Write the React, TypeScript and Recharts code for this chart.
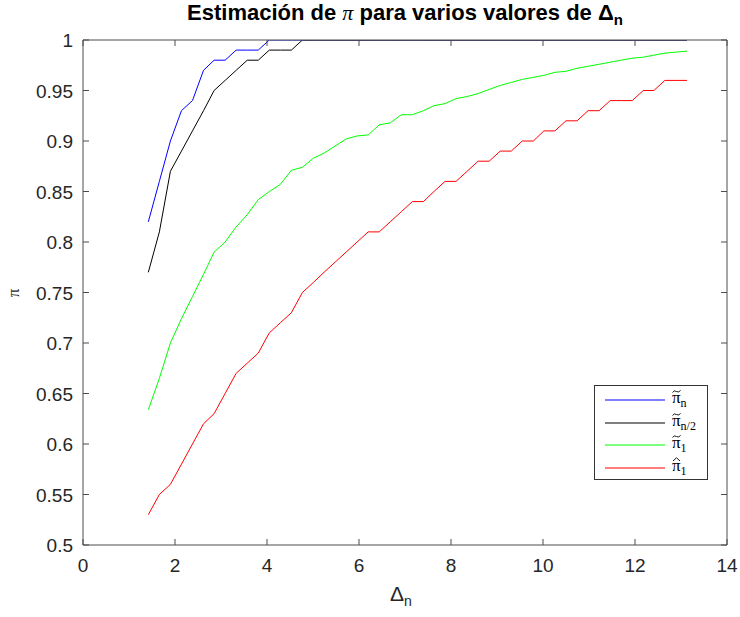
import { LineChart, Line, XAxis, YAxis, Legend } from 'recharts'

// x = Δn sample positions
const xValues = [
  1.42, 1.66, 1.9, 2.14, 2.38, 2.62, 2.85, 3.09, 3.33, 3.57,
  3.81, 4.05, 4.29, 4.53, 4.77, 5.01, 5.24, 5.48, 5.72, 5.96,
  6.2, 6.44, 6.68, 6.92, 7.16, 7.4, 7.63, 7.87, 8.11, 8.35,
  8.59, 8.83, 9.07, 9.31, 9.55, 9.79, 10.02, 10.26, 10.5, 10.74,
  10.98, 11.22, 11.46, 11.7, 11.94, 12.18, 12.41, 12.65, 12.89, 13.13,
]

const piTildeN = [
  0.82, 0.86, 0.9, 0.93, 0.94, 0.97, 0.98, 0.98, 0.99, 0.99,
  0.99, 1, 1, 1, 1, 1, 1, 1, 1, 1,
  1, 1, 1, 1, 1, 1, 1, 1, 1, 1,
  1, 1, 1, 1, 1, 1, 1, 1, 1, 1,
  1, 1, 1, 1, 1, 1, 1, 1, 1, 1,
]

const piTildeHalf = [
  0.77, 0.81, 0.87, 0.89, 0.91, 0.93, 0.95, 0.96, 0.97, 0.98,
  0.98, 0.99, 0.99, 0.99, 1, 1, 1, 1, 1, 1,
  1, 1, 1, 1, 1, 1, 1, 1, 1, 1,
  1, 1, 1, 1, 1, 1, 1, 1, 1, 1,
  1, 1, 1, 1, 1, 1, 1, 1, 1, 1,
]

const piTilde1 = [
  0.634, 0.665, 0.7, 0.724, 0.746, 0.768, 0.79, 0.8, 0.815, 0.827,
  0.842, 0.85, 0.857, 0.871, 0.874, 0.883, 0.888, 0.895, 0.902, 0.905,
  0.906, 0.916, 0.918, 0.926, 0.926, 0.93, 0.935, 0.937, 0.942, 0.944,
  0.947, 0.951, 0.955, 0.958, 0.961, 0.963, 0.965, 0.968, 0.969, 0.972,
  0.974, 0.976, 0.978, 0.98, 0.982, 0.983, 0.985, 0.987, 0.988, 0.989,
]

const piHat1 = [
  0.53, 0.55, 0.56, 0.58, 0.6, 0.62, 0.63, 0.65, 0.67, 0.68,
  0.69, 0.71, 0.72, 0.73, 0.75, 0.76, 0.77, 0.78, 0.79, 0.8,
  0.81, 0.81, 0.82, 0.83, 0.84, 0.84, 0.85, 0.86, 0.86, 0.87,
  0.88, 0.88, 0.89, 0.89, 0.9, 0.9, 0.91, 0.91, 0.92, 0.92,
  0.93, 0.93, 0.94, 0.94, 0.94, 0.95, 0.95, 0.96, 0.96, 0.96,
]

const xTicks = [0, 2, 4, 6, 8, 10, 12, 14]
const yTicks = [0.5, 0.55, 0.6, 0.65, 0.7, 0.75, 0.8, 0.85, 0.9, 0.95, 1]

const data = xValues.map((x, i) => ({
  x,
  piN: piTildeN[i],
  piHalf: piTildeHalf[i],
  pi1: piTilde1[i],
  piHat: piHat1[i],
}))

const series = [
  { key: 'piN', color: '#0000ff', accent: 'tilde', sub: 'n' },
  { key: 'piHalf', color: '#000000', accent: 'tilde', sub: 'n/2' },
  { key: 'pi1', color: '#00ff00', accent: 'tilde', sub: '1' },
  { key: 'piHat', color: '#ff0000', accent: 'hat', sub: '1' },
]

const AXIS = '#262626'
const BOX = '#4d4d4d'
const FONT = 'Arial, "Liberation Sans", Helvetica, sans-serif'
const SERIF = '"Liberation Serif", "DejaVu Serif", serif'
const TICK_SIZE = 19

const fmt = (v: number) => String(Number(v.toFixed(2)))

function BottomTick({ x, y, payload }: any) {
  return (
    <g>
      <line x1={x} x2={x} y1={y} y2={y - 6} stroke={BOX} />
      <text x={x} y={y + 27} textAnchor="middle" fill={AXIS} fontSize={TICK_SIZE} fontFamily={FONT}>
        {payload.value}
      </text>
    </g>
  )
}

function TopTick({ x, y }: any) {
  return <line x1={x} x2={x} y1={y} y2={y + 6} stroke={BOX} />
}

function LeftTick({ x, y, payload }: any) {
  return (
    <g>
      <line x1={x} x2={x + 6} y1={y} y2={y} stroke={BOX} />
      <text x={x - 10} y={y + 7} textAnchor="end" fill={AXIS} fontSize={TICK_SIZE} fontFamily={FONT}>
        {fmt(payload.value)}
      </text>
    </g>
  )
}

function RightTick({ x, y }: any) {
  return <line x1={x} x2={x - 6} y1={y} y2={y} stroke={BOX} />
}

// accent drawn as a tiny path so it sits right over the π
function Accent({ kind }: { kind: string }) {
  return (
    <svg
      width={9}
      height={5}
      style={{ position: 'absolute', left: 0, top: 0 }}
    >
      {kind === 'tilde' ? (
        <path d="M0.5 3.5 Q2 0.8 4.5 2.5 T8.5 1.2" fill="none" stroke="#000" strokeWidth={0.9} />
      ) : (
        <path d="M1 4 L4.5 0.8 L8 4" fill="none" stroke="#000" strokeWidth={0.9} />
      )}
    </svg>
  )
}

function LegendBox() {
  return (
    <div
      style={{
        position: 'relative',
        width: 112,
        height: 93,
        border: '1px solid #333',
        background: '#fff',
      }}
    >
      <svg width={112} height={93} style={{ position: 'absolute', left: 0, top: 0 }}>
        {series.map((s, i) => {
          const ly = Math.round(14 + i * 22.5)
          return (
            <line key={s.key} x1={10} x2={70} y1={ly} y2={ly} stroke={s.color} strokeWidth={1.2} />
          )
        })}
      </svg>
      {series.map((s, i) => (
        <div
          key={s.key}
          style={{
            position: 'absolute',
            left: 77,
            top: 3 + i * 22.5,
            fontFamily: SERIF,
            fontSize: 17,
            lineHeight: '18px',
            color: '#000',
            whiteSpace: 'nowrap',
          }}
        >
          <span style={{ position: 'relative', display: 'inline-block' }}>
            π
            <Accent kind={s.accent} />
          </span>
          <sub style={{ fontSize: 12 }}>{s.sub}</sub>
        </div>
      ))}
    </div>
  )
}

export default function App() {
  return (
    <div style={{ position: 'absolute', left: 0, top: 0, width: 740, height: 617, background: '#fff' }}>
      <LineChart
        width={740}
        height={617}
        data={data}
        margin={{ top: 30, right: 3, bottom: 32, left: 33 }}
      >
        <XAxis
          dataKey="x"
          type="number"
          domain={[0, 14]}
          ticks={xTicks}
          height={40}
          tickSize={0}
          tickMargin={0}
          tickLine={false}
          axisLine={{ stroke: BOX }}
          tick={<BottomTick />}
          allowDataOverflow
        />
        <XAxis
          xAxisId="top"
          orientation="top"
          dataKey="x"
          type="number"
          domain={[0, 14]}
          ticks={xTicks}
          height={10}
          tickSize={0}
          tickMargin={0}
          tickLine={false}
          axisLine={{ stroke: BOX }}
          tick={<TopTick />}
          allowDataOverflow
        />
        <YAxis
          type="number"
          domain={[0.5, 1]}
          ticks={yTicks}
          width={50}
          tickSize={0}
          tickMargin={0}
          tickLine={false}
          axisLine={{ stroke: BOX }}
          tick={<LeftTick />}
          allowDataOverflow
        />
        <YAxis
          yAxisId="right"
          orientation="right"
          type="number"
          domain={[0.5, 1]}
          ticks={yTicks}
          width={10}
          tickSize={0}
          tickMargin={0}
          tickLine={false}
          axisLine={{ stroke: BOX }}
          tick={<RightTick />}
          allowDataOverflow
        />
        <Legend
          layout="horizontal"
          align="center"
          verticalAlign="middle"
          content={() => <LegendBox />}
          wrapperStyle={{ left: 594, top: 385, width: 114, height: 95 }}
        />
        {series.map((s) => (
          <Line
            key={s.key}
            type="linear"
            dataKey={s.key}
            stroke={s.color}
            strokeWidth={1}
            dot={false}
            activeDot={false}
            isAnimationActive={false}
          />
        ))}
      </LineChart>

      {/* title */}
      <div
        style={{
          position: 'absolute',
          left: 83,
          width: 644,
          top: 0,
          textAlign: 'center',
          fontFamily: FONT,
          fontWeight: 'bold',
          fontSize: 22,
          lineHeight: '25px',
          color: '#000',
          whiteSpace: 'nowrap',
        }}
      >
        Estimación de <span style={{ fontFamily: SERIF, fontStyle: 'italic', fontWeight: 'normal' }}>π</span> para
        varios valores de Δ<sub style={{ fontSize: 15 }}>n</sub>
      </div>

      {/* y label */}
      <div
        style={{
          position: 'absolute',
          left: 10,
          top: 283,
          fontFamily: SERIF,
          fontSize: 17,
          color: AXIS,
          transform: 'rotate(-90deg)',
        }}
      >
        π
      </div>

      {/* x label */}
      <div
        style={{
          position: 'absolute',
          left: 390,
          top: 582,
          fontFamily: FONT,
          fontSize: 21,
          color: AXIS,
          whiteSpace: 'nowrap',
        }}
      >
        Δ<sub style={{ fontSize: 14 }}>n</sub>
      </div>
    </div>
  )
}
